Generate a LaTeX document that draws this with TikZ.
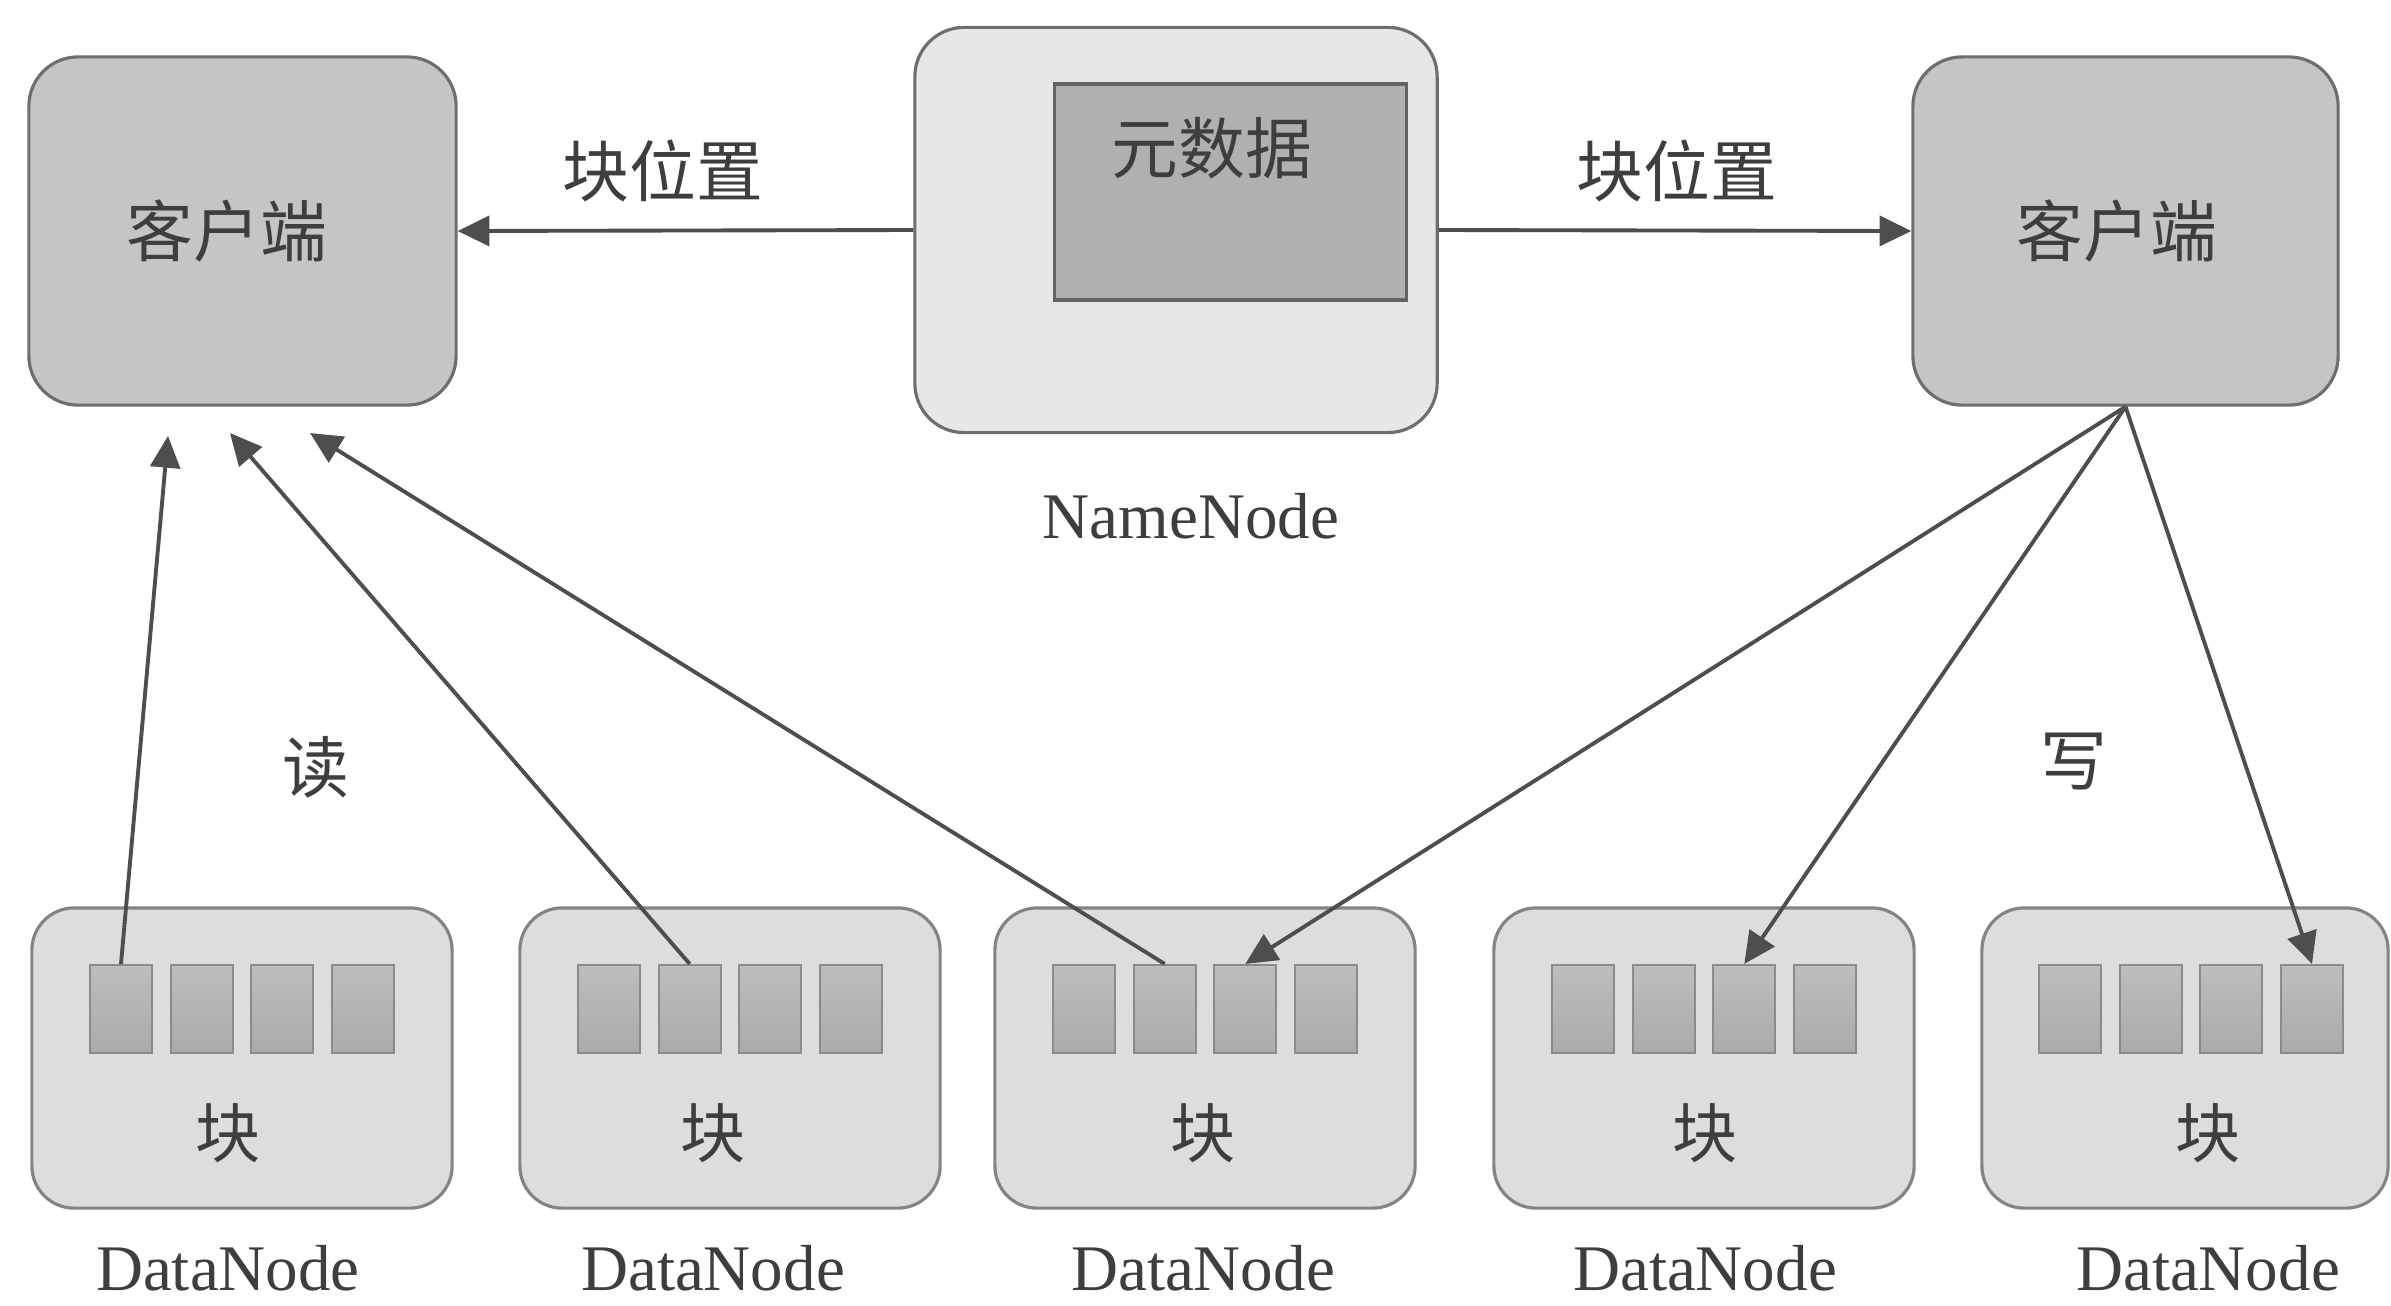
\documentclass[tikz,border=0pt]{standalone}
\usepackage{fontspec}
\setmainfont{Liberation Serif}
\newfontfamily\cjk{Noto Sans CJK SC}
\usetikzlibrary{arrows.meta}
\definecolor{ink}{HTML}{3E3E3E}
\definecolor{edge}{HTML}{6E6E6E}
\definecolor{wire}{HTML}{4E4E4E}
\definecolor{clientfill}{HTML}{C5C5C5}
\definecolor{nnfill}{HTML}{E7E7E7}
\definecolor{metafill}{HTML}{B0B0B0}
\definecolor{dnfill}{HTML}{DDDDDD}
\definecolor{celltop}{HTML}{BDBDBD}
\definecolor{cellmid}{HTML}{868686}
\definecolor{cellbot}{HTML}{ABABAB}
\tikzset{
  clientbox/.style={draw=edge, fill=clientfill, line width=0.9pt, rounded corners=14pt,
    minimum width=4.27cm, minimum height=3.48cm, inner sep=0pt},
  namebox/.style={draw=edge, fill=nnfill, line width=0.9pt, rounded corners=14pt,
    minimum width=5.22cm, minimum height=4.05cm, inner sep=0pt},
  metabox/.style={draw=edge!90!black, fill=metafill, line width=0.9pt,
    minimum width=3.51cm, minimum height=2.16cm, inner sep=0pt},
  databox/.style={draw=edge!85, fill=dnfill, line width=0.9pt, rounded corners=12pt,
    minimum height=3.0cm, inner sep=0pt},
  blockcell/.style={draw=edge!80, line width=0.6pt, minimum width=0.62cm, minimum height=0.88cm,
    inner sep=0pt, top color=celltop, middle color=cellmid, bottom color=cellbot},
  cjklabel/.style={font=\cjk\fontsize{19}{22}\selectfont, text=ink, inner sep=0pt},
  serlabel/.style={font=\fontsize{18.5}{22}\selectfont, text=ink, inner sep=0pt, text depth=0pt},
  arr/.style={draw=wire, line width=1.1pt, -{Triangle[length=9pt,width=8.5pt]}}
}
\begin{document}
\begin{tikzpicture}[x=0.01cm, y=-0.01cm]
\useasboundingbox (0,0) rectangle (2391,1305);
\fill[white] (0,0) rectangle (2391,1305);

% clients and the NameNode
\node[clientbox] (cl) at (242.5,231) {};
\node[cjklabel] (cltext) at (227,231) {客户端};
\node[clientbox, minimum width=4.25cm] (cr) at (2125.5,231) {};
\node[cjklabel] (crtext) at (2117,231) {客户端};
\node[namebox] (nn) at (1176,230) {};
\node[metabox] (meta) at (1230.5,192) {};
\node[cjklabel] (metatext) at (1212,148) {元数据};
\node[serlabel] (nnname) at (1191,516) {NameNode};

% DataNodes with their blocks
\foreach \i/\cx/\bx/\tx/\w in {1/242/242/228/4.2, 2/730/730/713/4.2, 3/1205/1205/1203/4.2,
                               4/1704/1704/1705/4.2, 5/2185/2191/2208/4.06}{
  \node[databox, minimum width=\w cm] (dn\i) at (\cx,1058) {};
  \foreach \j/\dx in {1/-121, 2/-40.3, 3/40.3, 4/121}{
    \node[blockcell] (dn\i b\j) at (\bx+\dx,1009) {};
  }
  \node[cjklabel, font=\cjk\fontsize{18.5}{22}\selectfont] (dn\i t) at (\tx,1133) {块};
  \node[serlabel] (dn\i n) at (\tx,1268) {DataNode};
}

% labels
\node[cjklabel] (locl) at (663,171) {块位置};
\node[cjklabel] (locr) at (1677,171) {块位置};
\node[cjklabel] (readlbl) at (316,767) {读};
\node[cjklabel] (writelbl) at (2074,762) {写};

% block locations handed to the clients
\draw[arr] (nn.west) -- (cl.east);
\draw[arr] (nn.east) -- (cr.west);

% read path: blocks up to the client
\coordinate (r1) at (168,436);
\coordinate (r2) at (230,433);
\coordinate (r3) at (310,433);
\draw[arr] (dn1b1.north) -- (r1);
\draw[arr] (dn2b2.north) -- (r2);
\draw[arr] (dn3b2.north) -- (r3);

% write path: client down to the blocks
\draw[arr] (cr.south) -- (dn3b3.north);
\draw[arr] (cr.south) -- (dn4b3.north);
\draw[arr] (cr.south) -- (dn5b4.north);
\end{tikzpicture}
\end{document}
